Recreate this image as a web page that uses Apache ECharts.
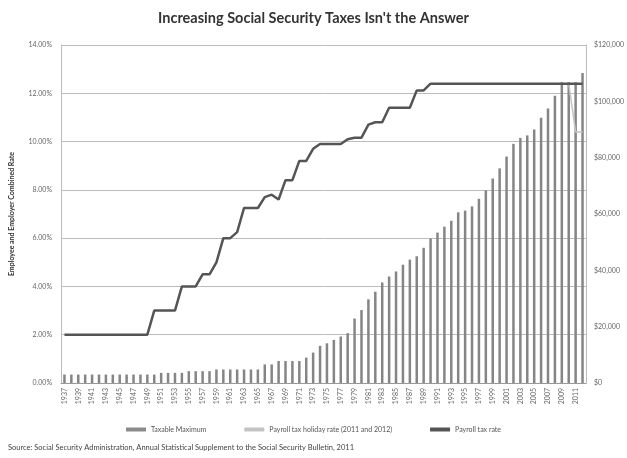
<!DOCTYPE html>
<html>
<head>
<meta charset="utf-8">
<script src="https://cdn.jsdelivr.net/npm/echarts@6/dist/echarts.min.js"></script>
<style>
html,body{margin:0;padding:0;background:#fff;}
#c{width:627px;height:458px;}
</style>
</head>
<body>
<div id="c"></div>
<script>
const years = [];
for (let y = 1937; y <= 2012; y++) years.push(String(y));

const taxableMaximum = [
  3000,3000,3000,3000,3000,3000,3000,3000,3000,3000,3000,3000,3000,3000, // 1937-1950
  3600,3600,3600,3600,                                                 // 1951-1954
  4200,4200,4200,4200,                                                 // 1955-1958
  4800,4800,4800,4800,4800,4800,4800,                                  // 1959-1965
  6600,6600,                                                           // 1966-1967
  7800,7800,7800,7800,                                                 // 1968-1971
  9000,10800,13200,14100,15300,16500,17700,                            // 1972-1978
  22900,25900,29700,32400,35700,37800,39600,42000,43800,45000,48000,   // 1979-1989
  51300,53400,55500,57600,60600,61200,62700,65400,68400,72600,         // 1990-1999
  76200,80400,84900,87000,87900,90000,94200,97500,102000,106800,       // 2000-2009
  106800,106800,110100                                                 // 2010-2012
];

const payrollTaxRate = [
  2.0,2.0,2.0,2.0,2.0,2.0,2.0,2.0,2.0,2.0,2.0,2.0,2.0,   // 1937-1949
  3.0,3.0,3.0,3.0,                                       // 1950-1953
  4.0,4.0,4.0,                                           // 1954-1956
  4.5,4.5,                                               // 1957-1958
  5.0,                                                   // 1959
  6.0,6.0,                                               // 1960-1961
  6.25,                                                  // 1962
  7.25,7.25,7.25,                                        // 1963-1965
  7.7,7.8,7.6,                                           // 1966-1968
  8.4,8.4,                                               // 1969-1970
  9.2,9.2,                                               // 1971-1972
  9.7,                                                   // 1973
  9.9,9.9,9.9,9.9,                                       // 1974-1977
  10.1,10.16,10.16,                                      // 1978-1980
  10.7,10.8,10.8,                                        // 1981-1983
  11.4,11.4,11.4,11.4,                                   // 1984-1987
  12.12,12.12,                                           // 1988-1989
  12.4,12.4,12.4,12.4,12.4,12.4,12.4,12.4,12.4,12.4,     // 1990-1999
  12.4,12.4,12.4,12.4,12.4,12.4,12.4,12.4,12.4,12.4,     // 2000-2009
  12.4,12.4,12.4                                         // 2010-2012
];

const holidayRate = years.map(y => y === '2010' ? 12.4 : (y === '2011' || y === '2012') ? 10.4 : null);

const leftTicks = [0,2,4,6,8,10,12,14];
const rightTicks = [0,20000,40000,60000,80000,100000,120000];

const FONT = 'Lato, "Open Sans", sans-serif';
const chart = echarts.init(document.getElementById('c'));
chart.setOption({
  animation: false,
  backgroundColor: '#fff',
  title: {
    text: 'Increasing Social Security Taxes Isn\'t the Answer',
    left: 'center',
    top: 6,
    textStyle: {fontFamily: FONT, fontSize: 14.5, fontWeight: 'bold', color: '#333'}
  },
  legend: {
    bottom: 20,
    left: 'center',
    itemGap: 38,
    itemWidth: 20,
    itemHeight: 4,
    textStyle: {fontFamily: FONT, fontSize: 7, color: '#555'},
    data: [
      {name: 'Taxable Maximum', icon: 'rect', itemStyle: {color: '#8a8a8a'}},
      {name: 'Payroll tax holiday rate (2011 and 2012)', icon: 'rect', itemStyle: {color: '#c4c4c4'}},
      {name: 'Payroll tax rate', icon: 'rect', itemStyle: {color: '#555'}}
    ]
  },
  graphic: [{
    type: 'text', left: 8, top: 444,
    style: {text: 'Source: Social Security Administration, Annual Statistical Supplement to the Social Security Bulletin, 2011',
            font: '7.5px ' + FONT, fill: '#444'}
  }],
  grid: {left: 60, right: 37, top: 45, bottom: 75},
  xAxis: {
    type: 'category',
    data: years,
    boundaryGap: true,
    axisLine: {lineStyle: {color: '#999'}},
    axisTick: {show: false},
    axisLabel: {interval: 1, rotate: 90, fontFamily: FONT, fontSize: 7, color: '#666', margin: 5}
  },
  yAxis: [{
    type: 'value', min: 0, max: 14, interval: 2, position: 'left',
    name: 'Employee and Employer Combined Rate',
    nameLocation: 'middle', nameGap: 46, nameRotate: 90,
    nameTextStyle: {fontFamily: FONT, fontSize: 7, fontWeight: 'bold', color: '#333'},
    axisLine: {show: true, lineStyle: {color: '#bbb'}},
    axisTick: {show: false},
    axisLabel: {fontFamily: FONT, fontSize: 7, color: '#666', margin: 9,
                formatter: v => leftTicks.includes(v) ? v.toFixed(2) + '%' : ''},
    splitLine: {lineStyle: {color: '#bcbcbc', width: 1}}
  }, {
    type: 'value', min: 0, max: 120000, interval: 20000, position: 'right',
    axisLine: {show: true, lineStyle: {color: '#bbb'}},
    axisTick: {show: false},
    axisLabel: {fontFamily: FONT, fontSize: 7, color: '#666', margin: 8,
                formatter: v => rightTicks.includes(v) ? '$' + v.toLocaleString('en-US') : ''},
    splitLine: {show: false}
  }],
  series: [{
    name: 'Taxable Maximum',
    type: 'bar',
    yAxisIndex: 1,
    data: taxableMaximum,
    barWidth: 2.5,
    itemStyle: {color: '#858585'}
  }, {
    name: 'Payroll tax holiday rate (2011 and 2012)',
    type: 'line',
    yAxisIndex: 0,
    data: holidayRate,
    symbol: 'none',
    lineStyle: {color: '#c4c4c4', width: 1.5}
  }, {
    name: 'Payroll tax rate',
    type: 'line',
    yAxisIndex: 0,
    data: payrollTaxRate,
    symbol: 'none',
    lineStyle: {color: '#555', width: 2.5}
  }]
});
</script>
</body>
</html>
